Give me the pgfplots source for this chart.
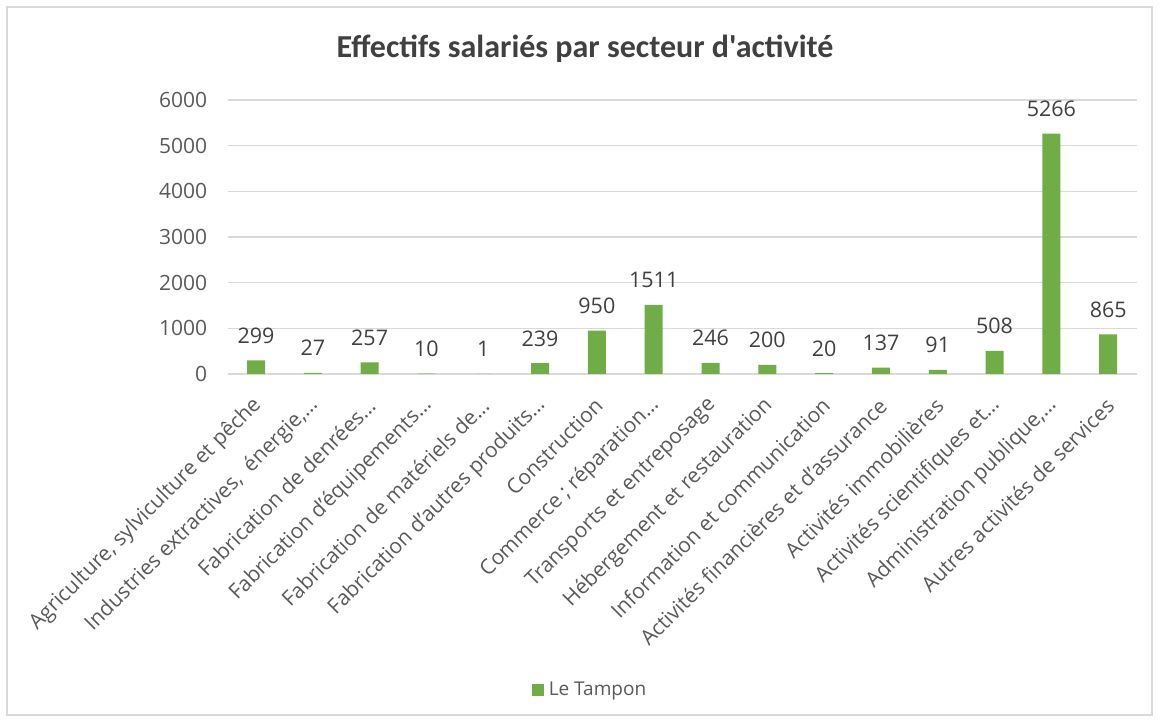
\documentclass[border=0pt]{standalone}
\usepackage{pgfplots}
\pgfplotsset{compat=1.18}
\usepackage{fontspec}
\setmainfont{Open Sans}
\newfontfamily\titlefont{Carlito}
\definecolor{barc}{HTML}{70AD47}
\definecolor{gridc}{HTML}{D9D9D9}
\definecolor{txt}{HTML}{595959}
\definecolor{dtxt}{HTML}{404040}
\begin{document}
\begin{tikzpicture}
\useasboundingbox (0pt,0pt) rectangle (1159pt,722pt);
\draw[color=gridc, line width=1.2pt] (7pt,7pt) rectangle (1152pt,715pt);
\node[font=\titlefont\bfseries\fontsize{32}{37}\selectfont, text=dtxt] at (585pt,673pt) {Effectifs salariés par secteur d'activité};
\begin{axis}[
  at={(227.6pt,348pt)}, anchor=south west,
  scale only axis, width=909pt, height=274pt,
  xmin=-0.5, xmax=15.5, ymin=0, ymax=6000,
  ytick={0,1000,...,6000},
  xtick={0,...,15},
  xticklabels={
    {Agriculture, sylviculture et pêche},
    {Industries extractives,\ \ énergie,…},
    {Fabrication de denrées…},
    {Fabrication d'équipements…},
    {Fabrication de matériels de…},
    {Fabrication d'autres produits…},
    {Construction},
    {Commerce ; réparation…},
    {Transports et entreposage},
    {Hébergement et restauration},
    {Information et communication},
    {Activités financières et d'assurance},
    {Activités immobilières},
    {Activités scientifiques et…},
    {Administration publique,…},
    {Autres activités de services}},
  /pgf/number format/assume math mode=true,
  /pgf/number format/1000 sep={},
  axis x line*=bottom,
  axis y line*=left,
  y axis line style={draw=none},
  x axis line style={draw=gridc, line width=1.2pt},
  ymajorgrids, grid style={draw=gridc, line width=1.2pt},
  major tick length=0pt,
  yticklabel style={font=\fontsize{21}{25}\selectfont, text=txt, anchor=east, xshift=-17pt},
  xticklabel style={font=\fontsize{21}{25}\selectfont, text=txt, xshift=2pt, yshift=-28pt, rotate=45, anchor=east, inner sep=0pt},
  ybar, bar width=18pt,
  nodes near coords,
  every node near coord/.append style={font=\fontsize{21.5}{25}\selectfont, text=dtxt, anchor=base, yshift=17pt, inner sep=0pt},
  legend style={at={(0.3987,-1.153)}, anchor=center, draw=none, font=\fontsize{19}{23}\selectfont, text=txt},
  legend image code/.code={\fill[barc] (0pt,-6pt) rectangle (12pt,6pt);},
]
\addplot[fill=barc, draw=none] coordinates {
 (0,299) (1,27) (2,257) (3,10) (4,1) (5,239) (6,950) (7,1511)
 (8,246) (9,200) (10,20) (11,137) (12,91) (13,508) (14,5266) (15,865)};
\addlegendentry{\hspace{3pt}Le Tampon}
\end{axis}
\end{tikzpicture}
\end{document}
